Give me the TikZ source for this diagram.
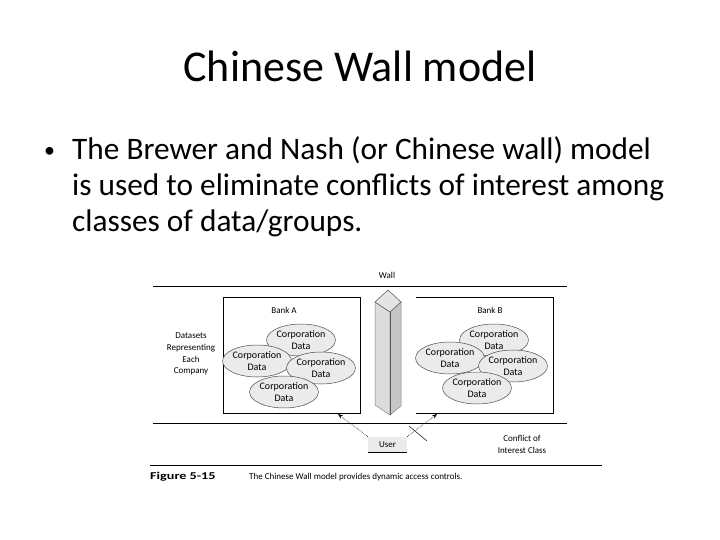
\documentclass[tikz,border=0pt]{standalone}
\usepackage{fontspec}
\setmainfont{Carlito}
\newfontfamily\figfont{Carlito}
\usetikzlibrary{shapes.geometric,arrows.meta}
\definecolor{ellfill}{HTML}{EBEBEB}
\definecolor{wallleft}{HTML}{DCDCDC}
\definecolor{wallright}{HTML}{C6C6C6}
\definecolor{walltop}{HTML}{E4E4E4}
\tikzset{
  figtxt/.style={font=\figfont\fontsize{9}{10}\selectfont, inner sep=0pt, align=center},
  corp/.style={ellipse, draw=black!70, fill=ellfill, line width=0.5pt, inner sep=0pt,
    minimum width=68pt, minimum height=32pt, font=\figfont\fontsize{10}{12.5}\selectfont, align=center},
  rule/.style={line width=0.9pt},
  bankbox/.style={line width=0.9pt},
  access/.style={densely dotted, line width=0.6pt, -{Stealth[length=5pt,width=4pt]}},
  slidetxt/.style={font=\fontsize{31.3}{36}\selectfont, anchor=base west, inner sep=0pt},
}
\begin{document}
\begin{tikzpicture}[x=1pt,y=-1pt]
\useasboundingbox (0,0) rectangle (720,540);
% title and bullet text
\node[font=\fontsize{44}{50}\selectfont, anchor=base, inner sep=0pt] (title) at (360,82) {Chinese Wall model};
\node[font=\fontsize{22}{24}\selectfont, anchor=base west, inner sep=0pt] (bul) at (44,158) {\textbullet};
\node[slidetxt] (l1) at (72,160) {The Brewer and Nash (or Chinese wall) model};
\node[slidetxt] (l2) at (72,196) {is used to eliminate conflicts of interest among};
\node[slidetxt] (l3) at (72,232) {classes of data/groups.};
% horizontal rules
\node[figtxt] (wall) at (387,275) {Wall};
\coordinate (t1) at (153,286); \coordinate (t2) at (567,286);
\draw[rule] (t1) -- (t2);
\coordinate (m1) at (153,423); \coordinate (m2) at (567,423);
\draw[rule] (m1) -- (m2);
\coordinate (b1) at (150,465); \coordinate (b2) at (602,465);
\draw[line width=0.6pt] (b1) -- (b2);
% bank boxes
\draw[bankbox] (223,297) rectangle (360,413);
\coordinate (bA) at (338,414);
\draw[bankbox] (416,297) -- (553,297) -- (553,413) -- (416,413);
\coordinate (bB) at (437,414);
\node[figtxt] (bankA) at (284,310) {Bank A};
\node[figtxt] (bankB) at (490,310) {Bank B};
% ellipses bank A
\node[corp] (a1) at (301,340) {Corporation\\Data};
\node[corp, minimum width=64pt] (a2) at (257,361) {Corporation\\Data};
\node[corp] (a3) at (321,368) {Corporation\\Data};
\node[corp] (a4) at (284,392) {Corporation\\Data};
% ellipses bank B
\node[corp] (b1e) at (494,340) {Corporation\\Data};
\node[corp, minimum width=64pt] (b2e) at (450,358) {Corporation\\Data};
\node[corp] (b3e) at (513,366) {Corporation\\Data};
\node[corp] (b4e) at (477,388) {Corporation\\Data};
% datasets label
\node[figtxt, font=\figfont\fontsize{9}{11.8}\selectfont] (ds) at (191,354) {Datasets\\Representing\\Each\\Company};
% wall pillar
\draw[draw=black!50, fill=wallleft, line width=0.5pt] (375,302) -- (390,312) -- (390,415) -- (375,405) -- cycle;
\draw[draw=black!50, fill=wallright, line width=0.5pt] (390,312) -- (401,302) -- (401,406) -- (390,415) -- cycle;
\draw[draw=black!60, fill=walltop, line width=0.6pt] (375,302) -- (388,290) -- (401,302) -- (390,312) -- cycle;
\draw[black!65, line width=0.8pt] (390,312) -- (390,415);
% user
\node[figtxt, fill=ellfill, minimum width=39pt, minimum height=15pt] (user) at (387.5,444.5) {User};
\draw[line width=0.8pt] (user.south west) -- (user.south east);
\draw[access] (user.north west) -- (bA);
\draw[access] (user.north east) -- (bB);
\coordinate (x1) at (409,426); \coordinate (x2) at (427,441);
\draw[line width=0.5pt] (x1) -- (x2);
\node[figtxt, font=\figfont\fontsize{9}{12}\selectfont] (coi) at (522,444) {Conflict of\\Interest Class};
% caption
\node[figtxt, anchor=base west, font=\figfont\bfseries\fontsize{10.5}{12}\selectfont] (fig) at (150,479) {\scalebox{1.35}[1]{Figure 5-15}};
\node[figtxt, anchor=base west] (cap) at (249,479) {The Chinese Wall model provides dynamic access controls.};
\end{tikzpicture}
\end{document}
